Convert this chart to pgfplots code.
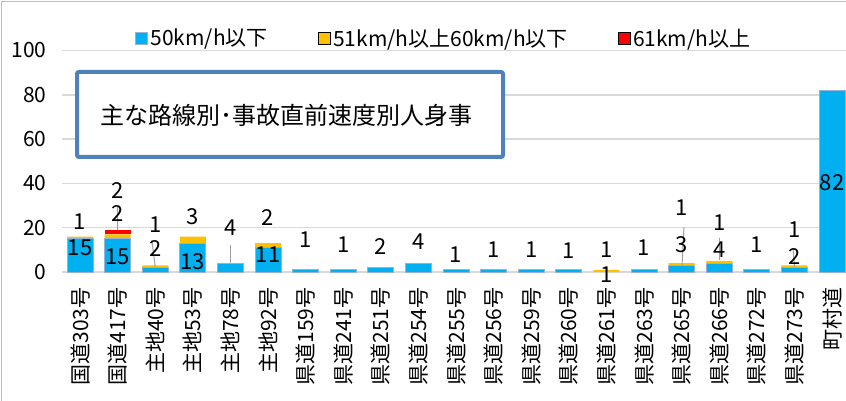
\documentclass[border=0pt]{standalone}
\usepackage{fontspec}
\setmainfont{Noto Sans CJK JP}
\usepackage{pgfplots}
\pgfplotsset{compat=1.18}
\definecolor{cblue}{RGB}{0,176,240}
\definecolor{cyel}{RGB}{255,192,0}
\definecolor{cred}{RGB}{255,0,0}
\definecolor{cedge}{RGB}{149,179,215}
\definecolor{cgrid}{RGB}{217,217,217}
\definecolor{cbox}{RGB}{79,129,189}
\definecolor{cframe}{RGB}{165,195,230}
\definecolor{clead}{RGB}{160,160,160}
\newcommand{\fs}[1]{\fontsize{#1bp}{#1bp}\selectfont}
\tikzset{lab/.style={font=\fs{22}, text=black, inner sep=0pt},
  lead/.style={clead, line width=1bp}}

\begin{document}
\begin{tikzpicture}
\useasboundingbox (0bp,0bp) rectangle (846bp,401bp);
\fill[white] (0bp,0bp) rectangle (846bp,401bp);
\draw[cframe, line width=1.5bp] (1.5bp,0bp) -- (1.5bp,399.5bp) -- (846bp,399.5bp);
\begin{axis}[at={(62bp,129bp)}, anchor=south west, scale only axis,
  width=784bp, height=221.5bp,
  ybar stacked, bar width=26bp,
  xmin=-0.48, xmax=20.37, ymin=0, ymax=100,
  ytick={0,20,40,60,80,100}, xtick={0,1,...,20},
  xticklabels={国道303号,国道417号,主地40号,主地53号,主地78号,主地92号,県道159号,県道241号,県道251号,県道254号,県道255号,県道256号,県道259号,県道260号,県道261号,県道263号,県道265号,県道266号,県道272号,県道273号,町村道},
  axis line style={draw=none}, major tick length=0pt,
  ymajorgrids, grid style={cgrid, line width=1.5bp},
  /pgf/number format/assume math mode=true,
  yticklabel style={font=\fs{21}, text=black, xshift=-12bp},
  xticklabel style={font=\fs{21}, text=black, rotate=90, anchor=east},
  xticklabel shift=12bp,
  clip=false,
  legend columns=3,
  legend style={at={(0.4866,1.056)}, anchor=center, draw=none, fill=none,
    font=\fs{21}, inner sep=0pt,
    /tikz/every odd column/.append style={column sep=1bp},
    /tikz/every even column/.append style={column sep=48bp}},
  area legend,
  legend image post style={xscale=0.7, yscale=2.1},
]
\addplot[fill=cblue, draw=cedge, line width=1bp] coordinates {
(0,15) (1,15) (2,2) (3,13) (4,4) (5,11) (6,1) (7,1) (8,2) (9,4) (10,1)
(11,1) (12,1) (13,1) (14,0) (15,1) (16,3) (17,4) (18,1) (19,2) (20,82)};
\addplot[fill=cyel, draw=none] coordinates {
(0,1) (1,2) (2,1) (3,3) (4,0) (5,2) (6,0) (7,0) (8,0) (9,0) (10,0)
(11,0) (12,0) (13,0) (14,1) (15,0) (16,1) (17,1) (18,0) (19,1) (20,0)};
\addplot[fill=cred, draw=none] coordinates {
(0,0) (1,2) (2,0) (3,0) (4,0) (5,0) (6,0) (7,0) (8,0) (9,0) (10,0)
(11,0) (12,0) (13,0) (14,0) (15,0) (16,0) (17,0) (18,0) (19,0) (20,0)};
\legend{50km/h以下, 51km/h以上60km/h以下, 61km/h以上}
\coordinate (a1) at (axis cs:0.99,29.3); \coordinate (b1) at (axis cs:1.0,19);
\coordinate (a2) at (axis cs:1.91,14.4); \coordinate (b2) at (axis cs:2.0,2.3);
\coordinate (a3) at (axis cs:4,12.2);    \coordinate (b3) at (axis cs:4,4);
\coordinate (a4) at (axis cs:16.06,20.3); \coordinate (b4) at (axis cs:16.01,3.2);
\coordinate (a5) at (axis cs:17,15.3);   \coordinate (b5) at (axis cs:17,5.4);
\coordinate (a6) at (axis cs:18.96,10.8); \coordinate (b6) at (axis cs:19,2.3);
\coordinate (n1) at (axis cs:0,10.8);
\coordinate (n2) at (axis cs:0,22.6);
\coordinate (n3) at (axis cs:1,6.8);
\coordinate (n4) at (axis cs:1,26.6);
\coordinate (n5) at (axis cs:1,37);
\coordinate (n6) at (axis cs:2,10.8);
\coordinate (n7) at (axis cs:2,21.2);
\coordinate (n8) at (axis cs:3,4.5);
\coordinate (n9) at (axis cs:3,24.8);
\coordinate (n10) at (axis cs:4,19.9);
\coordinate (n11) at (axis cs:5,7.7);
\coordinate (n12) at (axis cs:5,24.8);
\coordinate (n13) at (axis cs:6,14.4);
\coordinate (n14) at (axis cs:7,12.2);
\coordinate (n15) at (axis cs:8,11.3);
\coordinate (n16) at (axis cs:9,13.5);
\coordinate (n17) at (axis cs:10,7.7);
\coordinate (n18) at (axis cs:11,9.9);
\coordinate (n19) at (axis cs:12,9.9);
\coordinate (n20) at (axis cs:13,9.5);
\coordinate (n21) at (axis cs:14,-1.4);
\coordinate (n22) at (axis cs:14,9.9);
\coordinate (n23) at (axis cs:15,10.8);
\coordinate (n24) at (axis cs:16,12.2);
\coordinate (n25) at (axis cs:16,28.9);
\coordinate (n26) at (axis cs:17,9.9);
\coordinate (n27) at (axis cs:17,22.1);
\coordinate (n28) at (axis cs:18,12.2);
\coordinate (n29) at (axis cs:19,6.8);
\coordinate (n30) at (axis cs:19,19);
\coordinate (n31) at (axis cs:20,40.2);
\end{axis}
\foreach \i in {1,...,6} {\draw[lead] (a\i) -- (b\i);}
\foreach \i/\t in {1/15,2/1,3/15,4/2,5/2,6/2,7/1,8/13,9/3,10/4,11/11,12/2,13/1,14/1,15/2,16/4,17/1,18/1,19/1,20/1,21/1,22/1,23/1,24/3,25/1,26/4,27/1,28/1,29/2,30/1,31/82}
  {\node[lab] at (n\i) {\t};}
\draw[cbox, line width=4bp, fill=white, rounded corners=2bp] (77bp,329bp) rectangle (503bp,244bp);
\node[anchor=west, font=\fs{24}, inner sep=0pt] at (100bp,286bp) {主な路線別･事故直前速度別人身事};
\end{tikzpicture}
\end{document}
